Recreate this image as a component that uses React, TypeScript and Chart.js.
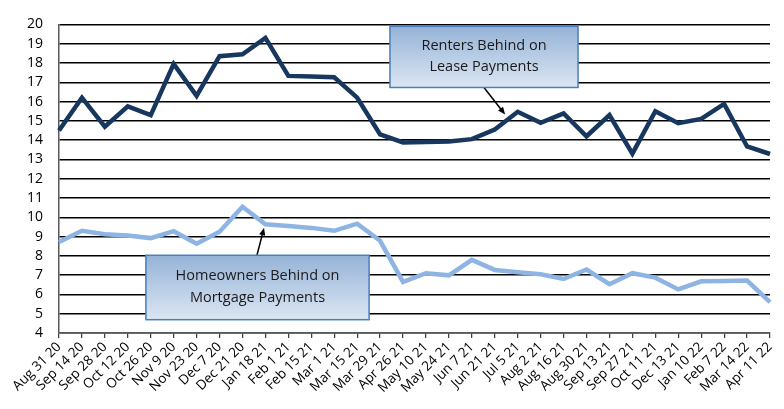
import React, { useEffect, useRef } from "react";
import { Chart, registerables } from "chart.js";

Chart.register(...registerables);

const categories = [
  "Aug 31 20", "Sep 14 20", "Sep 28 20", "Oct 12 20", "Oct 26 20", "Nov 9 20",
  "Nov 23 20", "Dec 7 20", "Dec 21 20", "Jan 18 21", "Feb 1 21", "Feb 15 21",
  "Mar 1 21", "Mar 15 21", "Mar 29 21", "Apr 26 21", "May 10 21", "May 24 21",
  "Jun 7 21", "Jun 21 21", "Jul 5 21", "Aug 2 21", "Aug 16 21", "Aug 30 21",
  "Sep 13 21", "Sep 27 21", "Oct 11 21", "Dec 13 21", "Jan 10 22", "Feb 7 22",
  "Mar 14 22", "Apr 11 22",
];

const renters = [
  14.5, 16.2, 14.7, 15.75, 15.3, 17.95, 16.3, 18.35, 18.45, 19.3, 17.33, 17.3,
  17.26, 16.2, 14.3, 13.88, 13.9, 13.93, 14.05, 14.55, 15.47, 14.9, 15.38, 14.2,
  15.3, 13.3, 15.5, 14.88, 15.1, 15.88, 13.67, 13.28,
];

const homeowners = [
  8.72, 9.3, 9.12, 9.05, 8.92, 9.28, 8.63, 9.25, 10.55, 9.64, 9.55, 9.45,
  9.3, 9.67, 8.78, 6.65, 7.1, 6.99, 7.79, 7.27, 7.15, 7.05, 6.8, 7.29,
  6.53, 7.1, 6.87, 6.26, 6.68, 6.7, 6.72, 5.6,
];

const yTicks = { min: 4, max: 20, step: 1 };

// Callouts: box corners [xIndexLeft, yTop, xIndexRight, yBottom], arrow from -> to in data units
const callouts = [
  {
    lines: ["Renters Behind on", "Lease Payments"],
    box: [14.43, 19.9, 22.63, 16.73],
    arrowFrom: [18.53, 16.73],
    arrowTo: [19.45, 15.33],
  },
  {
    lines: ["Homeowners Behind on", "Mortgage Payments"],
    box: [3.79, 8.03, 13.52, 4.69],
    arrowFrom: [8.63, 8.03],
    arrowTo: [8.94, 9.45],
  },
];

const calloutPlugin = {
  id: "callouts",
  afterDatasetsDraw(chart: any) {
    const { ctx, scales } = chart;
    const xs = scales.x;
    const ys = scales.y;
    ctx.save();
    for (const c of callouts) {
      const x1 = xs.getPixelForValue(c.box[0]);
      const y1 = ys.getPixelForValue(c.box[1]);
      const x2 = xs.getPixelForValue(c.box[2]);
      const y2 = ys.getPixelForValue(c.box[3]);
      const ax = xs.getPixelForValue(c.arrowFrom[0]);
      const ay = ys.getPixelForValue(c.arrowFrom[1]);
      const bx = xs.getPixelForValue(c.arrowTo[0]);
      const by = ys.getPixelForValue(c.arrowTo[1]);
      const ang = Math.atan2(by - ay, bx - ax);
      const head = 8;
      ctx.strokeStyle = "#000";
      ctx.fillStyle = "#000";
      ctx.lineWidth = 1.5;
      ctx.beginPath();
      ctx.moveTo(ax, ay);
      ctx.lineTo(bx - Math.cos(ang) * head * 0.8, by - Math.sin(ang) * head * 0.8);
      ctx.stroke();
      ctx.beginPath();
      ctx.moveTo(bx, by);
      ctx.lineTo(bx - head * Math.cos(ang - 0.4), by - head * Math.sin(ang - 0.4));
      ctx.lineTo(bx - head * Math.cos(ang + 0.4), by - head * Math.sin(ang + 0.4));
      ctx.closePath();
      ctx.fill();
      const g = ctx.createLinearGradient(0, y1, 0, y2);
      g.addColorStop(0, "#95B3D7");
      g.addColorStop(1, "#DCE6F3");
      ctx.fillStyle = g;
      ctx.fillRect(x1, y1, x2 - x1, y2 - y1);
      ctx.strokeStyle = "#4A7EBB";
      ctx.lineWidth = 1.5;
      ctx.strokeRect(x1, y1, x2 - x1, y2 - y1);
      ctx.fillStyle = "#1a1a1a";
      ctx.font = '14.5px "Open Sans"';
      ctx.textAlign = "center";
      ctx.textBaseline = "middle";
      const cx = (x1 + x2) / 2;
      const cy = (y1 + y2) / 2 - 0.5;
      ctx.fillText(c.lines[0], cx, cy - 10.8);
      ctx.fillText(c.lines[1], cx, cy + 10.8);
    }
    ctx.restore();
  },
};

export default function App() {
  const ref = useRef<HTMLCanvasElement | null>(null);
  useEffect(() => {
    document.body.style.margin = "0";
    const canvas = ref.current;
    if (!canvas) return;
    const chart = new Chart(canvas, {
      type: "line",
      data: {
        labels: categories,
        datasets: [
          {
            label: "Renters Behind on Lease Payments",
            data: renters,
            borderColor: "#17375E",
            borderWidth: 4.5,
            pointRadius: 0,
            tension: 0,
            fill: false,
          },
          {
            label: "Homeowners Behind on Mortgage Payments",
            data: homeowners,
            borderColor: "#8DB4E2",
            borderWidth: 4.5,
            pointRadius: 0,
            tension: 0,
            fill: false,
          },
        ],
      },
      options: {
        responsive: false,
        animation: false,
        devicePixelRatio: 1,
        layout: { padding: { top: 15, right: 14, left: 0, bottom: 0 } },
        plugins: { legend: { display: false }, tooltip: { enabled: false } },
        scales: {
          x: {
            offset: false,
            afterFit: (s: any) => {
              s.height = 76;
            },
            grid: {
              display: true,
              drawOnChartArea: false,
              drawTicks: true,
              tickLength: 5,
              color: "#404040",
              lineWidth: 1.25,
            },
            border: { display: true, color: "#595959", width: 1.5 },
            ticks: {
              autoSkip: false,
              maxRotation: 45,
              minRotation: 45,
              padding: 1,
              color: "#000",
              font: { family: '"Open Sans"', size: 13.5 },
            },
          },
          y: {
            min: yTicks.min,
            max: yTicks.max,
            afterFit: (s: any) => {
              s.width = 59;
            },
            grid: {
              color: "#000",
              lineWidth: 1.4,
              drawTicks: false,
            },
            border: { display: true, color: "#595959", width: 1.5 },
            ticks: {
              stepSize: yTicks.step,
              autoSkip: false,
              padding: 16,
              color: "#000",
              font: { family: '"Open Sans"', size: 14 },
            },
          },
        },
      },
      plugins: [calloutPlugin],
    });
    return () => chart.destroy();
  }, []);
  return (
    <div style={{ position: "fixed", left: 0, top: 0, width: 784, height: 409, background: "#fff" }}>
      <canvas ref={ref} width={784} height={409} style={{ width: 784, height: 409, display: "block" }} />
    </div>
  );
}
